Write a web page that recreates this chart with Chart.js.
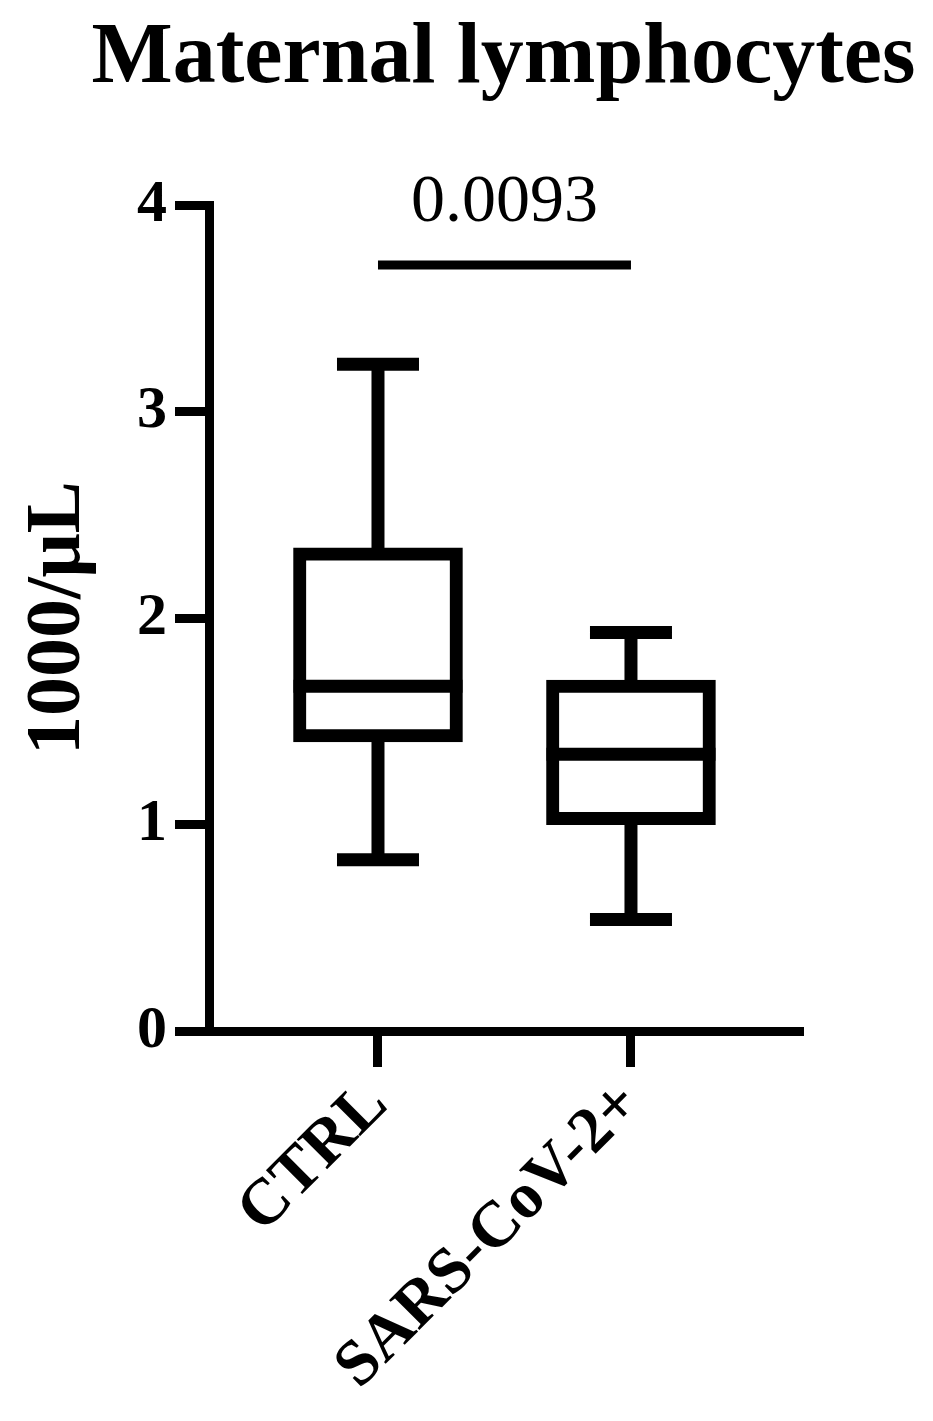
<!DOCTYPE html>
<html>
<head>
<meta charset="utf-8">
<script src="https://cdn.jsdelivr.net/npm/chart.js@4.4.1/dist/chart.umd.min.js"></script>
<style>
  html, body { margin: 0; padding: 0; background: #fff; }
</style>
</head>
<body>
<canvas id="boxChart" width="933" height="1421"></canvas>
<script>
// box plot values (1000/uL)
const groups = ['CTRL', 'SARS-CoV-2+'];
const whiskerLow = [0.83, 0.54];
const q1 = [1.40, 1.00];
const median = [1.67, 1.34];
const q3 = [2.34, 1.70];
const whiskerHigh = [3.23, 1.93];
const yTicks = [0, 1, 2, 3, 4];
const pValue = '0.0093';
const sigLevel = 3.71;

const serif = 'Liberation Serif';

// whiskers, medians and the significance bar, placed with the chart scales
const boxParts = {
    id: 'boxParts',
    beforeDatasetsDraw(chart) {
        const { ctx, scales: { x, y } } = chart;
        ctx.save();
        ctx.strokeStyle = '#000';
        ctx.lineWidth = 13;
        ctx.lineCap = 'butt';
        groups.forEach((g, i) => {
            const cx = x.getPixelForValue(i);
            const lo = y.getPixelForValue(whiskerLow[i]);
            const hi = y.getPixelForValue(whiskerHigh[i]);
            ctx.beginPath();
            ctx.moveTo(cx, lo);
            ctx.lineTo(cx, hi);
            ctx.moveTo(cx - 41, lo);
            ctx.lineTo(cx + 41, lo);
            ctx.moveTo(cx - 41, hi);
            ctx.lineTo(cx + 41, hi);
            ctx.stroke();
        });
        ctx.restore();
    },
    afterDatasetsDraw(chart) {
        const { ctx, scales: { x, y } } = chart;
        const meta = chart.getDatasetMeta(0);
        ctx.save();
        ctx.strokeStyle = '#000';
        ctx.lineWidth = 13;
        meta.data.forEach((bar, i) => {
            const py = y.getPixelForValue(median[i]);
            ctx.beginPath();
            ctx.moveTo(bar.x - bar.width / 2, py);
            ctx.lineTo(bar.x + bar.width / 2, py);
            ctx.stroke();
        });

        const x0 = x.getPixelForValue(0);
        const x1 = x.getPixelForValue(1);
        const sy = y.getPixelForValue(sigLevel);
        ctx.lineWidth = 9;
        ctx.beginPath();
        ctx.moveTo(x0, sy);
        ctx.lineTo(x1, sy);
        ctx.stroke();

        ctx.fillStyle = '#000';
        ctx.font = '68px "' + serif + '"';
        ctx.textAlign = 'center';
        ctx.textBaseline = 'alphabetic';
        ctx.fillText(pValue, (x0 + x1) / 2, sy - 44);
        ctx.restore();
    }
};

const ctx = document.getElementById('boxChart').getContext('2d');
const chart = new Chart(ctx, {
    type: 'bar',
    data: {
        datasets: [{
            data: groups.map((g, i) => ({ x: i, y: [q1[i], q3[i]] })),
            backgroundColor: '#fff',
            borderColor: '#000',
            borderWidth: 13,
            borderSkipped: false,
            barThickness: 169
        }]
    },
    options: {
        responsive: false,
        animation: false,
        // left padding shifts the title box so the title sits where it does in the figure
        layout: { padding: { left: 74, right: 0, top: 0, bottom: 0 } },
        plugins: {
            legend: { display: false },
            tooltip: { enabled: false },
            title: {
                display: true,
                text: 'Maternal lymphocytes',
                color: '#000',
                font: { family: serif, size: 86, weight: 'bold' },
                padding: { top: 8, bottom: 94 }
            }
        },
        scales: {
            x: {
                type: 'linear',
                min: -0.668,
                max: 1.68,
                offset: false,
                afterBuildTicks: s => { s.ticks = groups.map((g, i) => ({ value: i })); },
                afterFit: s => { s.height = 390; s.paddingLeft = 0; s.paddingRight = 0; },
                ticks: {
                    callback: v => groups[v],
                    autoSkip: false,
                    minRotation: 45,
                    maxRotation: 45,
                    padding: 0,
                    color: '#000',
                    font: { family: serif, size: 65, weight: 'bold' }
                },
                grid: { offset: false, drawOnChartArea: false, tickLength: 36, tickWidth: 9, tickColor: '#000' },
                border: { width: 9, color: '#000' }
            },
            y: {
                min: 0,
                max: 4,
                afterBuildTicks: s => { s.ticks = yTicks.map(v => ({ value: v })); },
                afterFit: s => { s.width = 135; s.paddingTop = 0; s.paddingBottom = 0; },
                ticks: {
                    padding: 8,
                    color: '#000',
                    font: { family: serif, size: 60, weight: 'bold' }
                },
                grid: { drawOnChartArea: false, tickLength: 34, tickWidth: 9, tickColor: '#000' },
                border: { width: 9, color: '#000' },
                title: {
                    display: true,
                    text: '1000/μL',
                    color: '#000',
                    font: { family: serif, size: 78, weight: 'bold' },
                    padding: { top: -62, bottom: 0 }
                }
            },
            // empty right-hand space, keeps the plot where it is in the figure
            spacer: {
                position: 'right',
                display: true,
                ticks: { display: false },
                grid: { display: false },
                border: { display: false },
                afterFit: s => { s.width = 130; }
            }
        }
    },
    plugins: [boxParts]
});
</script>
</body>
</html>
